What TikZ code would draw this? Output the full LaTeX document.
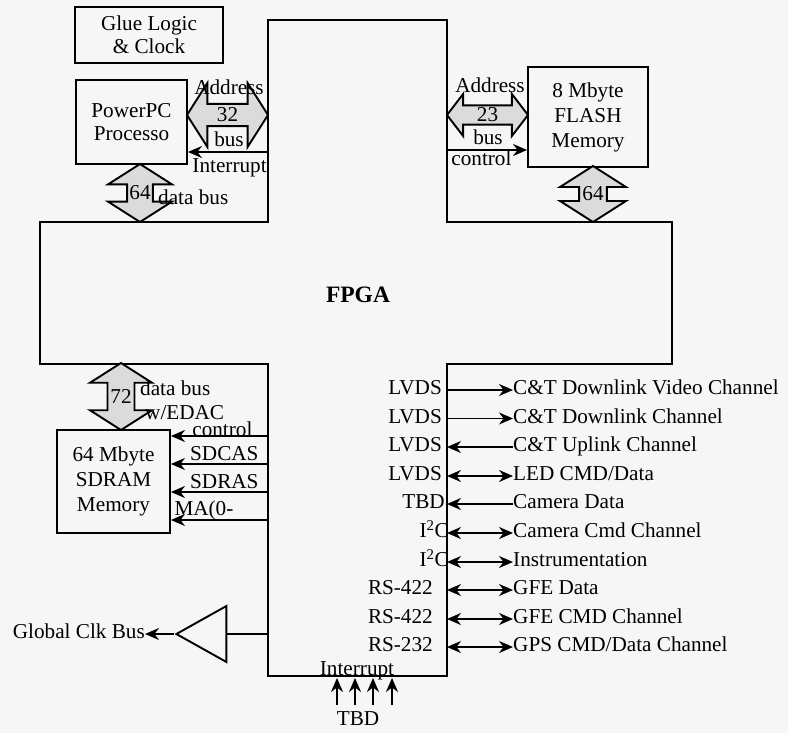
\documentclass[tikz,border=0pt]{standalone}
\usepackage{fontspec}
\setmainfont{Liberation Serif}
\usetikzlibrary{shapes.geometric, shapes.arrows, arrows.meta, positioning, calc}
\tikzset{
  chip/.style = {rectangle, draw=black, line width=1.9pt, align=center, inner sep=2pt},
  bus/.style = {double arrow, draw=black, line width=1.9pt, fill=gray!28, inner sep=0pt, minimum width=64pt, double arrow head extend=15pt, double arrow tip angle=115},
  vbus/.style = {bus, shape border rotate=90},
  line/.style = {-{Stealth[length=14pt, width=12pt]}, line width=1.9pt},
  biline/.style = {{Stealth[length=14pt, width=12pt]}-{Stealth[length=14pt, width=12pt]}, line width=1.9pt},
  tag/.style = {inner sep=0pt, text height=14pt, text depth=4.5pt},
  buffer/.style = {isosceles triangle, draw=black, line width=1.9pt, shape border rotate=180, isosceles triangle stretches, minimum width=56pt, minimum height=50pt, inner sep=0pt}
}

\begin{document}
\begin{tikzpicture}[x=1pt, y=-1pt, font=\fontsize{21.2}{25}\selectfont]

% Background
\fill[gray!7] (0,0) rectangle (788,733);

% FPGA outline
\draw[line width=1.9pt] (268,20) -- (447,20) -- (447,222) -- (672,222) -- (672,364) -- (447,364) -- (447,676) -- (268,676) -- (268,364) -- (40,364) -- (40,222) -- (268,222) -- cycle;
\coordinate (fL) at (268,0);
\coordinate (fR) at (447,0);
\node[font=\fontsize{23.5}{26}\selectfont\bfseries] (fpga) at (358,295) {FPGA};

% Processor side
\node[chip, minimum width=148pt, minimum height=56pt, font=\fontsize{21.2}{23}\selectfont] (glue) at (149,35) {Glue Logic\\\& Clock};
\node[chip, minimum width=111pt, minimum height=84pt, font=\fontsize{21.2}{23}\selectfont] (ppc) at (131.5,122) {PowerPC\\Processo};
\node[bus, minimum height=81pt] (abus32) at (227.5,115) {32};
\node[tag] (addr32) at (229,90) {Address};
\node[tag] (bus32) at (229,142) {bus};
\node[vbus, minimum height=58pt, minimum width=64pt, double arrow head extend=17pt] (pbus) at (140,193) {64};
\node[tag, anchor=west] (pdata) at (158,200) {data bus};
\coordinate (pi) at (268,152);
\draw[line] (pi) -- node[tag, pos=0.48, below=6pt] (pint) {Interrupt} (pi -| ppc.east);

% Flash side
\node[chip, minimum width=120pt, minimum height=100pt] (flash) at (588,117) {8 Mbyte\\FLASH\\Memory};
\node[bus, minimum height=81pt, minimum width=42pt, double arrow head extend=9.5pt, double arrow tip angle=105] (abus23) at (487.5,115) {23};
\node[tag] (addr23) at (490,88) {Address};
\node[tag] (bus23) at (488,139.5) {bus};
\node[vbus, minimum height=56pt, minimum width=66pt, double arrow head extend=16pt] (fbus) at (593,194) {64};
\coordinate (fc) at (447,150);
\draw[line] (fc) -- node[tag, pos=0.43, below=1pt] (fctl) {control} (fc -| flash.west);

% SDRAM side
\node[chip, minimum width=113pt, minimum height=103pt] (sdram) at (113.5,481.5) {64 Mbyte\\SDRAM\\Memory};
\node[vbus, minimum height=67pt, minimum width=62pt, double arrow head extend=15pt] (dbus72) at (121,396.5) {72};
\node[tag, anchor=west, align=left, text height=, text depth=, font=\fontsize{21.2}{24}\selectfont] (edac) at (140,400) {data bus\\\hspace{5pt}w/EDAC};
\coordinate (s1) at (268,436);
\coordinate (s2) at (268,464);
\coordinate (s3) at (268,492);
\coordinate (s4) at (268,520);
\draw[line] (s1) -- node[tag, pos=0.47, above=-6pt] (sctl) {control} (s1 -| sdram.east);
\draw[line] (s2) -- node[tag, pos=0.45, above=-2pt] (scas) {SDCAS} (s2 -| sdram.east);
\draw[line] (s3) -- node[tag, pos=0.45, above=-2pt] (sras) {SDRAS} (s3 -| sdram.east);
\draw[line] (s4) -- node[tag, pos=0.66, above=-1pt] (sma) {MA(0-} (s4 -| sdram.east);

% Clock buffer
\node[buffer] (buf) at (210,634) {};
\node[tag, anchor=east] (gclk) at (145,634) {Global Clk Bus};
\draw[line width=1.9pt] (buf.east) -- (buf.east -| fL);
\draw[line] (buf.west) -- (gclk.east);

% External channels
\node[tag, anchor=east] (p1) at (442,390) {LVDS};
\node[tag, anchor=east] (p2) at (442,418.5) {LVDS};
\node[tag, anchor=east] (p3) at (442,447) {LVDS};
\node[tag, anchor=east] (p4) at (442,476) {LVDS};
\node[tag, anchor=east] (p5) at (445,504) {TBD};
\node[tag, anchor=east] (p6) at (449,533) {I\textsuperscript{2}C};
\node[tag, anchor=east] (p7) at (449,562) {I\textsuperscript{2}C};
\node[tag, anchor=east] (p8) at (433,590) {RS-422};
\node[tag, anchor=east] (p9) at (433,619) {RS-422};
\node[tag, anchor=east] (p10) at (433,647) {RS-232};

\node[tag, anchor=west] (ch1) at (513,390) {C\&T Downlink Video Channel};
\node[tag, anchor=west] (ch2) at (513,418.5) {C\&T Downlink Channel};
\node[tag, anchor=west] (ch3) at (513,447) {C\&T Uplink Channel};
\node[tag, anchor=west] (ch4) at (513,476) {LED CMD/Data};
\node[tag, anchor=west] (ch5) at (513,504) {Camera Data};
\node[tag, anchor=west] (ch6) at (513,533) {Camera Cmd Channel};
\node[tag, anchor=west] (ch7) at (513,562) {Instrumentation};
\node[tag, anchor=west] (ch8) at (513,590) {GFE Data};
\node[tag, anchor=west] (ch9) at (513,619) {GFE CMD Channel};
\node[tag, anchor=west] (ch10) at (513,647) {GPS CMD/Data Channel};

\draw[line] (ch1.west -| fR) -- (ch1.west);
\draw[line] (ch2.west -| fR) -- (ch2.west);
\draw[line] (ch3.west) -- (ch3.west -| fR);
\draw[biline] (ch4.west -| fR) -- (ch4.west);
\draw[line] (ch5.west) -- (ch5.west -| fR);
\draw[biline] (ch6.west -| fR) -- (ch6.west);
\draw[biline] (ch7.west -| fR) -- (ch7.west);
\draw[biline] (ch8.west -| fR) -- (ch8.west);
\draw[biline] (ch9.west -| fR) -- (ch9.west);
\draw[biline] (ch10.west -| fR) -- (ch10.west);

% Interrupt inputs
\node[tag] (intr) at (357,671) {Interrupt};
\node[tag] (tbd) at (358,721) {TBD};
\coordinate (i1) at (337,705);
\coordinate (i2) at (355,705);
\coordinate (i3) at (373,705);
\coordinate (i4) at (392,705);
\draw[line] (i1) -- ++(0,-27);
\draw[line] (i2) -- ++(0,-27);
\draw[line] (i3) -- ++(0,-27);
\draw[line] (i4) -- ++(0,-27);

\end{tikzpicture}
\end{document}
